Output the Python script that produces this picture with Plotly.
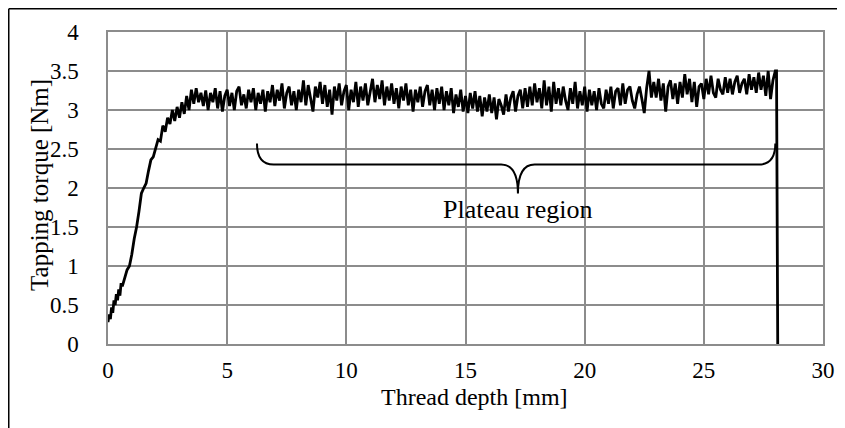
import plotly.graph_objects as go

# thread depth [mm] and tapping torque [Nm]
ramp_depth = [0.0, 0.05, 0.1, 0.15, 0.2, 0.25, 0.3, 0.35, 0.4, 0.45, 0.5, 0.55, 0.6, 0.7, 0.8,
              0.9, 1.0, 1.1, 1.2, 1.3, 1.4, 1.5, 1.6, 1.7, 1.8, 1.9, 2.0, 2.1, 2.2, 2.3,
              2.4, 2.5, 2.6, 2.7, 2.8, 2.9, 3.0, 3.1, 3.2, 3.3, 3.4, 3.5, 3.6, 3.7, 3.8, 3.9]
ramp_torque = [0.28, 0.38, 0.32, 0.47, 0.40, 0.56, 0.50, 0.64, 0.56, 0.70, 0.62, 0.78, 0.74, 0.86, 0.95,
               1.00, 1.15, 1.35, 1.50, 1.70, 1.93, 2.00, 2.06, 2.22, 2.36, 2.40, 2.52, 2.62, 2.60, 2.80,
               2.72, 2.90, 2.82, 3.00, 2.86, 3.04, 2.90, 3.10, 2.95, 3.18, 3.00, 3.26, 3.08, 3.28, 3.10, 3.22]

plateau_start = [4, 5, 6, 7, 8, 9, 10, 11, 12, 13, 14, 15, 16, 17, 18, 19, 20, 21, 22, 23, 24, 25, 26, 27]
plateau_torque = [
    [3.05, 3.25, 3.00, 3.22, 3.10, 3.28, 3.02, 3.24, 2.98, 3.18],
    [3.26, 3.05, 3.22, 3.00, 3.24, 3.30, 3.06, 3.20, 3.02, 3.26],
    [3.10, 3.28, 3.00, 3.22, 3.08, 3.26, 2.98, 3.24, 3.10, 3.32],
    [3.05, 3.26, 3.12, 3.34, 3.02, 3.22, 3.30, 3.06, 3.24, 3.00],
    [3.26, 3.10, 3.38, 3.06, 3.32, 3.14, 2.98, 3.30, 3.16, 3.36],
    [3.08, 3.32, 3.04, 3.26, 2.94, 3.30, 3.12, 3.34, 3.06, 3.24],
    [3.32, 3.00, 3.26, 3.10, 3.36, 3.04, 3.30, 3.12, 3.34, 3.06],
    [3.26, 3.40, 3.10, 3.32, 3.14, 3.38, 3.06, 3.30, 3.12, 3.34],
    [3.08, 3.28, 3.02, 3.30, 3.12, 3.34, 3.06, 3.26, 2.98, 3.26],
    [3.10, 3.30, 3.04, 3.24, 3.32, 3.06, 3.26, 3.00, 3.28, 3.08],
    [3.30, 3.00, 3.24, 3.06, 3.28, 2.96, 3.20, 3.04, 3.26, 2.98],
    [3.18, 2.96, 3.22, 3.02, 3.24, 2.98, 3.18, 2.92, 3.16, 2.98],
    [3.20, 2.96, 3.16, 2.88, 3.14, 3.06, 2.94, 3.20, 2.98, 3.16],
    [3.24, 2.98, 3.18, 3.26, 3.02, 3.28, 3.04, 3.30, 3.06, 3.34],
    [3.10, 3.28, 3.02, 3.38, 3.06, 3.30, 2.98, 3.36, 3.08, 3.28],
    [3.06, 3.30, 3.12, 3.00, 3.28, 3.08, 3.36, 3.02, 3.24, 3.06],
    [3.30, 2.98, 3.26, 3.06, 3.24, 3.00, 3.28, 3.08, 3.02, 3.26],
    [3.08, 3.30, 3.02, 3.24, 3.28, 3.06, 3.34, 3.08, 3.26, 3.30],
    [3.12, 3.02, 3.20, 3.30, 3.14, 2.96, 3.28, 3.50, 3.16, 3.36],
    [3.16, 3.40, 3.12, 3.34, 2.98, 3.30, 3.38, 3.14, 3.34, 3.08],
    [3.36, 3.16, 3.46, 3.20, 3.40, 3.10, 3.36, 3.04, 3.30, 3.34],
    [3.14, 3.40, 3.20, 3.44, 3.22, 3.16, 3.40, 3.26, 3.20, 3.42],
    [3.22, 3.40, 3.20, 3.36, 3.44, 3.22, 3.34, 3.40, 3.20, 3.46],
    [3.26, 3.42, 3.22, 3.48, 3.26, 3.44, 3.18, 3.50, 3.14, 3.38],
]
end_depth = [28.0, 28.05, 28.1]
end_torque = [3.50, 3.50, 0.0]

depth = list(ramp_depth)
torque = list(ramp_torque)
for start, vals in zip(plateau_start, plateau_torque):
    for i, v in enumerate(vals):
        depth.append(round(start + i / 10, 2))
        torque.append(v)
depth += end_depth
torque += end_torque

# plateau brace
brace_x0, brace_x1, brace_mid = 6.25, 28.0, 17.2
brace_top, brace_bar, brace_tip = 2.57, 2.30, 1.93

FONT = "Liberation Serif, Times New Roman, serif"
GRID = "#8c8c8c"

fig = go.Figure()
fig.add_trace(go.Scatter(x=depth, y=torque, mode="lines",
                         line=dict(color="black", width=2.8), showlegend=False))

r = 0.7   # brace corner size in x units
path = (f"M {brace_x0},{brace_top} "
        f"Q {brace_x0},{brace_bar} {brace_x0 + r},{brace_bar} "
        f"L {brace_mid - r},{brace_bar} "
        f"Q {brace_mid},{brace_bar} {brace_mid},{brace_tip} "
        f"Q {brace_mid},{brace_bar} {brace_mid + r},{brace_bar} "
        f"L {brace_x1 - r},{brace_bar} "
        f"Q {brace_x1},{brace_bar} {brace_x1},{brace_top}")
fig.add_shape(type="path", path=path, xref="x", yref="y",
              line=dict(color="black", width=2))

fig.add_annotation(x=brace_mid, y=1.72, text="Plateau region", showarrow=False,
                   xref="x", yref="y", xanchor="center", yanchor="middle",
                   font=dict(family=FONT, size=26, color="black"))

# axis titles
fig.add_annotation(x=0.513, y=-0.17, xref="paper", yref="paper", text="Thread depth [mm]",
                   xanchor="center", yanchor="middle", showarrow=False,
                   font=dict(family=FONT, size=24, color="black"))
fig.add_annotation(x=-0.095, y=0.51, xref="paper", yref="paper", text="Tapping torque [Nm]",
                   xanchor="center", yanchor="middle", textangle=-90, showarrow=False,
                   font=dict(family=FONT, size=25, color="black"))

# outer frame (left and top edges visible)
fig.add_shape(type="line", xref="paper", yref="paper", x0=-0.1388, x1=-0.1388, y0=-0.3, y1=1.0745,
              line=dict(color="black", width=1.5))
fig.add_shape(type="line", xref="paper", yref="paper", x0=-0.1388, x1=1.1, y0=1.0745, y1=1.0745,
              line=dict(color="black", width=1.5))

# page body has an 8px margin, so the figure is sized to fit the 845x428 window
fig.update_layout(
    width=837, height=420,
    margin=dict(l=100, r=22, t=24, b=84),
    paper_bgcolor="white", plot_bgcolor="white",
    font=dict(family=FONT, size=23, color="black"),
    xaxis=dict(range=[0, 30], tickvals=[0, 5, 10, 15, 20, 25, 30], showgrid=True,
               gridcolor=GRID, gridwidth=1.5, zeroline=False, showline=True,
               linecolor=GRID, linewidth=1.5, mirror=True, ticks="", automargin=False,
               ticklabelstandoff=5, tickfont=dict(size=23)),
    yaxis=dict(range=[0, 4], dtick=0.5, showgrid=True, gridcolor=GRID, gridwidth=1.5,
               zeroline=False, showline=True, linecolor=GRID, linewidth=1.5, mirror=True,
               ticks="", automargin=False, ticklabelstandoff=23, tickfont=dict(size=23)),
)

fig.write_html("out.html")
